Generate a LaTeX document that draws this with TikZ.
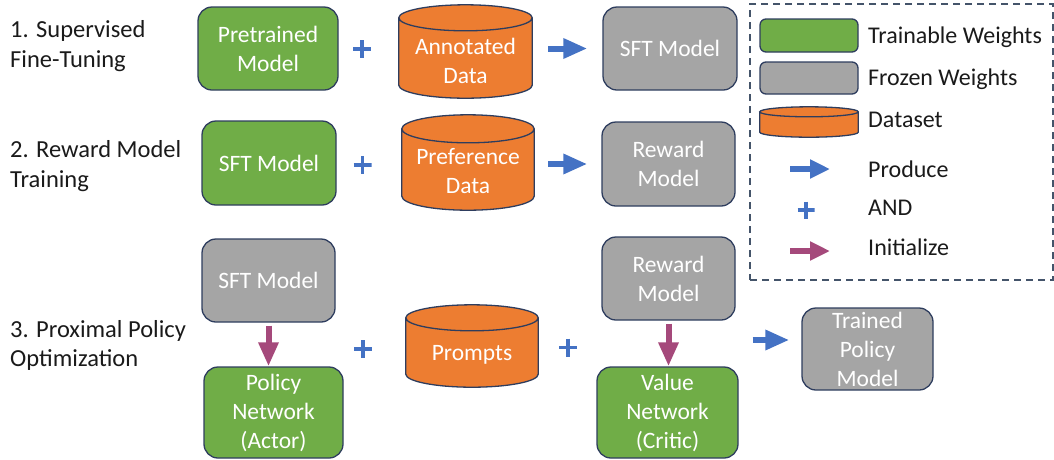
\documentclass[tikz,border=0pt]{standalone}
\usepackage{fontspec}
\setmainfont{Carlito}
\usetikzlibrary{arrows.meta,calc}
\definecolor{cgreen}{HTML}{70AD47}
\definecolor{cgray}{HTML}{A5A5A5}
\definecolor{corange}{HTML}{ED7D31}
\definecolor{cblue}{HTML}{4472C4}
\definecolor{cpurple}{HTML}{A5497B}
\definecolor{cborder}{HTML}{2E3D5E}
\definecolor{cdash}{HTML}{44546A}
\definecolor{ctext}{HTML}{1A1A1A}
\newcommand\boxfont{\fontsize{23.5pt}{29pt}\selectfont}
\newcommand\lblfont{\fontsize{24.5pt}{29pt}\selectfont}
\newcommand\legfont{\fontsize{24pt}{29pt}\selectfont}
\tikzset{
  box/.style={draw=cborder, line width=1.3pt, rounded corners=14pt, inner sep=0pt,
    text=white, font=\boxfont, align=center},
  trainable/.style={box, fill=cgreen},
  frozen/.style={box, fill=cgray},
  cylarea/.style={inner sep=0pt, draw=none},
  cylbody/.style={fill=corange},
  cylline/.style={draw=cborder, line width=1.3pt},
  boxtext/.style={text=white, font=\boxfont, align=center, inner sep=0pt},
  lbl/.style={anchor=base west, font=\lblfont, text=ctext, inner sep=0pt},
  leglbl/.style={lbl, font=\legfont},
  produce/.style={draw=cblue, line width=6pt, -{Triangle[length=24pt,width=19pt]}},
  initarrow/.style={draw=cpurple, line width=6pt, -{Triangle[length=24pt,width=19pt]}},
  legproduce/.style={draw=cblue, line width=6pt, -{Triangle[length=20pt,width=18pt]}},
  leginit/.style={draw=cpurple, line width=6pt, -{Triangle[length=20pt,width=18pt]}},
  plusmark/.style={minimum size=18pt, inner sep=0pt,
    path picture={\draw[cblue, line width=3.5pt]
      (path picture bounding box.west) -- (path picture bounding box.east)
      (path picture bounding box.north) -- (path picture bounding box.south);}},
  legendframe/.style={draw=cdash, line width=1.5pt, dash pattern=on 7pt off 5pt, inner sep=0pt}
}
\newcommand\drawcyl[2]{%
  \fill[cylbody] let \p1=(#1.north west), \p2=(#1.south east), \n1={(\x2-\x1)/2} in
    (\x1,\y1-#2pt) -- (\x1,\y2+#2pt)
    arc[start angle=180,end angle=360,x radius=\n1,y radius=#2pt]
    -- (\x2,\y1-#2pt)
    arc[start angle=0,end angle=180,x radius=\n1,y radius=#2pt] -- cycle;
  \draw[cylline] let \p1=(#1.north west), \p2=(#1.south east), \n1={(\x2-\x1)/2} in
    (\x1,\y1-#2pt) -- (\x1,\y2+#2pt)
    arc[start angle=180,end angle=360,x radius=\n1,y radius=#2pt]
    -- (\x2,\y1-#2pt)
    arc[start angle=0,end angle=360,x radius=\n1,y radius=#2pt];
}
\begin{document}
\begin{tikzpicture}[x=1pt,y=1pt]
\useasboundingbox (0,0) rectangle (1054,-459);

% left labels
\node[lbl] (l1a) at (10,-37) {1. Supervised};
\node[lbl] (l1b) at (10,-67) {Fine-Tuning};
\node[lbl] (l2a) at (10,-157) {2. Reward Model};
\node[lbl] (l2b) at (10,-187) {Training};
\node[lbl] (l3a) at (10,-337) {3. Proximal Policy};
\node[lbl] (l3b) at (10,-366) {Optimization};

% row 1
\node[trainable, minimum width=140pt, minimum height=83pt] (pm) at (268,-48.5) {Pretrained\\Model};
\node[plusmark] (p1) at (362,-49) {};
\node[cylarea, minimum width=133pt, minimum height=93pt] (ad) at (465.5,-51.5) {};
\drawcyl{ad}{13}
\node[boxtext] (adt) at ([yshift=-9pt]ad.center) {Annotated\\Data};
\node[frozen, minimum width=134pt, minimum height=83pt] (sft1) at (670,-48.5) {SFT Model};
\draw[produce] ([xshift=16pt]ad.east |- sft1.west) -- ([xshift=-15pt]sft1.west);

% row 2
\node[trainable, minimum width=134pt, minimum height=84pt] (sft2) at (269,-163) {SFT Model};
\node[plusmark] (p2) at (362.5,-165) {};
\node[cylarea, minimum width=132pt, minimum height=95pt] (pd) at (468,-162.5) {};
\drawcyl{pd}{14}
\node[boxtext] (pdt) at ([yshift=-9pt]pd.center) {Preference\\Data};
\node[frozen, minimum width=133pt, minimum height=84pt] (rm2) at (668.5,-164) {Reward\\Model};
\draw[produce] ([xshift=14pt]pd.east |- rm2.west) -- ([xshift=-14pt]rm2.west);

% row 3
\node[frozen, minimum width=133pt, minimum height=83pt] (sft3) at (268.5,-280.5) {SFT Model};
\node[trainable, minimum width=139pt, minimum height=91pt] (pn) at (273.5,-412.5) {Policy\\Network\\(Actor)};
\draw[initarrow] ([yshift=-3pt]sft3.south) -- (sft3.south |- pn.north);
\node[plusmark] (p3) at (363,-349) {};
\node[cylarea, minimum width=132pt, minimum height=82pt] (pr) at (472,-346) {};
\drawcyl{pr}{13}
\node[boxtext] (prt) at ([yshift=-8.5pt]pr.center) {Prompts};
\node[plusmark] (p4) at (568,-347.5) {};
\node[frozen, minimum width=133pt, minimum height=83pt] (rm3) at (668.5,-278.5) {Reward\\Model};
\node[trainable, minimum width=141pt, minimum height=91pt] (vn) at (667.5,-412.5) {Value\\Network\\(Critic)};
\draw[initarrow] ([yshift=-3pt]rm3.south) -- (rm3.south |- vn.north);
\node[frozen, minimum width=131pt, minimum height=82pt] (tp) at (867.5,-349) {Trained\\Policy\\Model};
\coordinate (tpa) at ([xshift=-12pt,yshift=9pt]tp.west);
\draw[produce] ([xshift=14pt]vn.east |- tpa) -- (tpa);

% legend
\node[legendframe, minimum width=303pt, minimum height=276pt] (legend) at (901.5,-142) {};
\node[trainable, rounded corners=6pt, minimum width=98pt, minimum height=33pt] (lg1) at (809,-35.5) {};
\node[leglbl] (lt1) at (868,-43) {Trainable Weights};
\node[frozen, rounded corners=6pt, minimum width=98pt, minimum height=32pt] (lg2) at (809,-78) {};
\node[leglbl] (lt2) at (868,-85) {Frozen Weights};
\node[cylarea, minimum width=98pt, minimum height=30pt] (lg3) at (809,-122) {};
\drawcyl{lg3}{5}
\node[leglbl] (lt3) at (868,-127) {Dataset};
\coordinate (la1) at (790,-169);
\coordinate (lb1) at (830,-169);
\draw[legproduce] (la1) -- (lb1);
\node[leglbl] (lt4) at (868,-177) {Produce};
\node[plusmark, minimum size=17pt] (lp) at (806,-210) {};
\node[leglbl] (lt5) at (868,-215) {AND};
\coordinate (la2) at (790,-251);
\coordinate (lb2) at (830,-251);
\draw[leginit] (la2) -- (lb2);
\node[leglbl] (lt6) at (868,-255) {Initialize};
\end{tikzpicture}
\end{document}
